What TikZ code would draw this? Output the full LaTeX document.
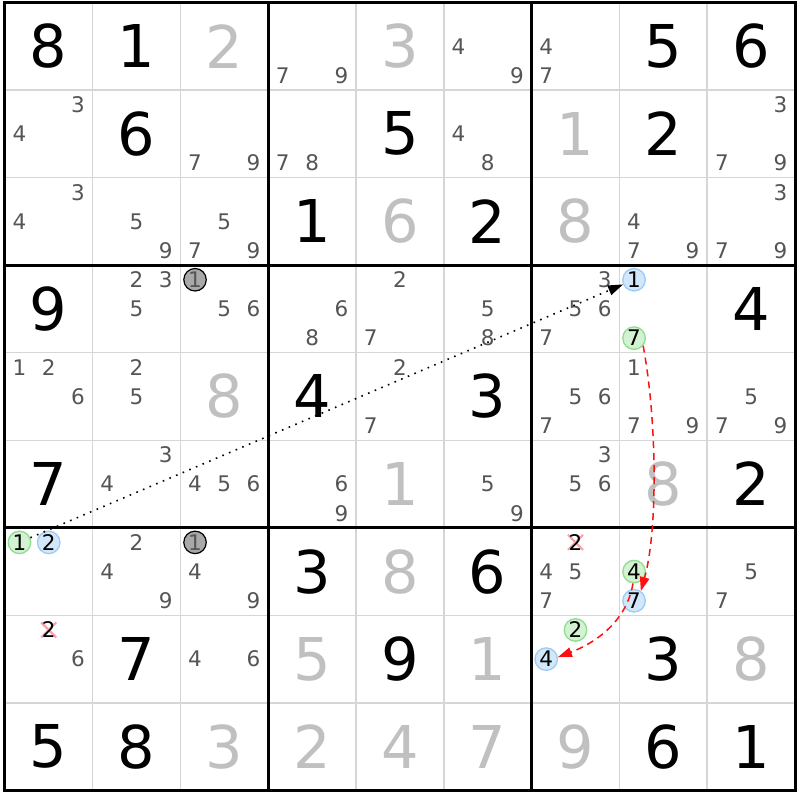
\documentclass[tikz,border=0pt]{standalone}
\usepackage{fontspec}
\setmainfont{DejaVu Sans}
\usetikzlibrary{arrows.meta}
\definecolor{givengray}{HTML}{C0C0C0}
\definecolor{candgray}{HTML}{555555}
\definecolor{thingrid}{HTML}{D6D6D6}
\definecolor{hlblue}{HTML}{D3E7FB}
\definecolor{hlblueb}{HTML}{9DCBF5}
\definecolor{hlgreen}{HTML}{D2F2D2}
\definecolor{hlgreenb}{HTML}{8FDD8F}
\definecolor{hlgray}{HTML}{A8A8A8}
\definecolor{xpink}{HTML}{F5A3AD}
\definecolor{chainred}{HTML}{FF1010}
\newcommand\gridx{4.8}
\newcommand\gridy{2.5}
\newcommand\cellw{87.8}
\newcommand\cellh{87.55}
\newcommand\GivenDigit[4]{%
  \node[#1] (v#2#3) at ({\gridx+(#3-0.5)*\cellw},{\gridy+(#2-0.5)*\cellh}) {#4};}
\newcommand\CandXY[3]{%
  \pgfmathsetmacro\px{\gridx+(#2-1)*\cellw+(2*mod(#3-1,3)+1)*\cellw/6}%
  \pgfmathsetmacro\py{\gridy+(#1-1)*\cellh+(2*floor((#3-1)/3)+1)*\cellh/6}}
\newcommand\Cands[3]{%
  \foreach \dd in {#3}{%
    \CandXY{#1}{#2}{\dd}%
    \node[cand] (k#1#2\dd) at (\px,\py) {\dd};}}
\newcommand\Marked[4]{%
  \CandXY{#2}{#3}{#4}%
  \node[#1] (h#2#3#4) at (\px,\py) {#4};}
\newcommand\Elim[3]{%
  \CandXY{#1}{#2}{#3}%
  \draw[elimx] (\px-7.5,\py-7.5) -- (\px+7.5,\py+7.5);
  \draw[elimx] (\px-7.5,\py+7.5) -- (\px+7.5,\py-7.5);
  \node[cand,text=black] (x#1#2#3) at (\px,\py) {#3};}
\tikzset{
  big/.style={inner sep=0pt, font=\fontsize{59}{59}\selectfont, text=black},
  biggray/.style={big, text=givengray},
  cand/.style={inner sep=0pt, font=\fontsize{21.5}{21.5}\selectfont, text=candgray},
  hlbase/.style={circle, minimum size=22.5pt, inner sep=0pt, line width=1.3pt,
    font=\fontsize{21.5}{21.5}\selectfont, text=black},
  hlb/.style={hlbase, draw=hlblueb, fill=hlblue},
  hlg/.style={hlbase, draw=hlgreenb, fill=hlgreen},
  hlk/.style={hlbase, draw=black, fill=hlgray, text=candgray, line width=1.2pt},
  elimx/.style={draw=xpink, line width=2.2pt},
  thinline/.style={draw=thingrid, line width=1.5pt},
  thickline/.style={draw=black, line width=2.8pt},
  dotchain/.style={draw=black, line width=1.6pt, dash pattern=on 1.6pt off 5.6pt,
    -{Triangle[length=15pt,width=10pt]}},
  redchain/.style={draw=chainred, line width=1.5pt, dash pattern=on 7pt off 5pt,
    -{Triangle[length=14pt,width=9.5pt]}}
}
\begin{document}
\begin{tikzpicture}[x=1pt,y=-1pt]
\useasboundingbox (0,0) rectangle (800,800);
\fill[white] (0,0) rectangle (800,800);
% grid
\foreach \i in {1,2,4,5,7,8}{
  \draw[thinline] ({\gridx+\i*\cellw},\gridy) -- ({\gridx+\i*\cellw},{\gridy+9*\cellh});
  \draw[thinline] (\gridx,{\gridy+\i*\cellh}) -- ({\gridx+9*\cellw},{\gridy+\i*\cellh});
}
\foreach \i in {3,6}{
  \draw[thickline] ({\gridx+\i*\cellw},\gridy) -- ({\gridx+\i*\cellw},{\gridy+9*\cellh});
  \draw[thickline] (\gridx,{\gridy+\i*\cellh}) -- ({\gridx+9*\cellw},{\gridy+\i*\cellh});
}
\draw[black, line width=3pt] (\gridx,\gridy) rectangle ({\gridx+9*\cellw},{\gridy+9*\cellh});
% givens
\GivenDigit{big}{1}{1}{8}\GivenDigit{big}{1}{2}{1}\GivenDigit{biggray}{1}{3}{2}
\GivenDigit{biggray}{1}{5}{3}\GivenDigit{big}{1}{8}{5}\GivenDigit{big}{1}{9}{6}
\GivenDigit{big}{2}{2}{6}\GivenDigit{big}{2}{5}{5}\GivenDigit{biggray}{2}{7}{1}\GivenDigit{big}{2}{8}{2}
\GivenDigit{big}{3}{4}{1}\GivenDigit{biggray}{3}{5}{6}\GivenDigit{big}{3}{6}{2}\GivenDigit{biggray}{3}{7}{8}
\GivenDigit{big}{4}{1}{9}\GivenDigit{big}{4}{9}{4}
\GivenDigit{biggray}{5}{3}{8}\GivenDigit{big}{5}{4}{4}\GivenDigit{big}{5}{6}{3}
\GivenDigit{big}{6}{1}{7}\GivenDigit{biggray}{6}{5}{1}\GivenDigit{biggray}{6}{8}{8}\GivenDigit{big}{6}{9}{2}
\GivenDigit{big}{7}{4}{3}\GivenDigit{biggray}{7}{5}{8}\GivenDigit{big}{7}{6}{6}
\GivenDigit{big}{8}{2}{7}\GivenDigit{biggray}{8}{4}{5}\GivenDigit{big}{8}{5}{9}
\GivenDigit{biggray}{8}{6}{1}\GivenDigit{big}{8}{8}{3}\GivenDigit{biggray}{8}{9}{8}
\GivenDigit{big}{9}{1}{5}\GivenDigit{big}{9}{2}{8}\GivenDigit{biggray}{9}{3}{3}
\GivenDigit{biggray}{9}{4}{2}\GivenDigit{biggray}{9}{5}{4}\GivenDigit{biggray}{9}{6}{7}
\GivenDigit{biggray}{9}{7}{9}\GivenDigit{big}{9}{8}{6}\GivenDigit{big}{9}{9}{1}
% candidates
\Cands{1}{4}{7,9}\Cands{1}{6}{4,9}\Cands{1}{7}{4,7}
\Cands{2}{1}{3,4}\Cands{2}{3}{7,9}\Cands{2}{4}{7,8}\Cands{2}{6}{4,8}\Cands{2}{9}{3,7,9}
\Cands{3}{1}{3,4}\Cands{3}{2}{5,9}\Cands{3}{3}{5,7,9}\Cands{3}{8}{4,7,9}\Cands{3}{9}{3,7,9}
\Cands{4}{2}{2,3,5}\Cands{4}{3}{5,6}\Cands{4}{4}{6,8}\Cands{4}{5}{2,7}\Cands{4}{6}{5,8}\Cands{4}{7}{3,5,6,7}
\Cands{5}{1}{1,2,6}\Cands{5}{2}{2,5}\Cands{5}{5}{2,7}\Cands{5}{7}{5,6,7}\Cands{5}{8}{1,7,9}\Cands{5}{9}{5,7,9}
\Cands{6}{2}{3,4}\Cands{6}{3}{4,5,6}\Cands{6}{4}{6,9}\Cands{6}{6}{5,9}\Cands{6}{7}{3,5,6}
\Cands{7}{2}{2,4,9}\Cands{7}{3}{4,9}\Cands{7}{7}{4,5,7}\Cands{7}{9}{5,7}
\Cands{8}{1}{6}\Cands{8}{3}{4,6}
% eliminations
\Elim{7}{7}{2}
\Elim{8}{1}{2}
% marked candidates
\Marked{hlk}{4}{3}{1}
\Marked{hlk}{7}{3}{1}
\Marked{hlb}{4}{8}{1}
\Marked{hlg}{4}{8}{7}
\Marked{hlg}{7}{1}{1}
\Marked{hlb}{7}{1}{2}
\Marked{hlg}{7}{8}{4}
\Marked{hlb}{7}{8}{7}
\Marked{hlg}{8}{7}{2}
\Marked{hlb}{8}{7}{4}
% chain
\draw[dotchain] (h711) -- (h481);
\draw[redchain] (h487.-40) .. controls (657,420) and (658,530) .. (h787.55);
\draw[redchain] (h784.-95) .. controls (626,625) and (590,645) .. (h874.10);
\end{tikzpicture}
\end{document}
